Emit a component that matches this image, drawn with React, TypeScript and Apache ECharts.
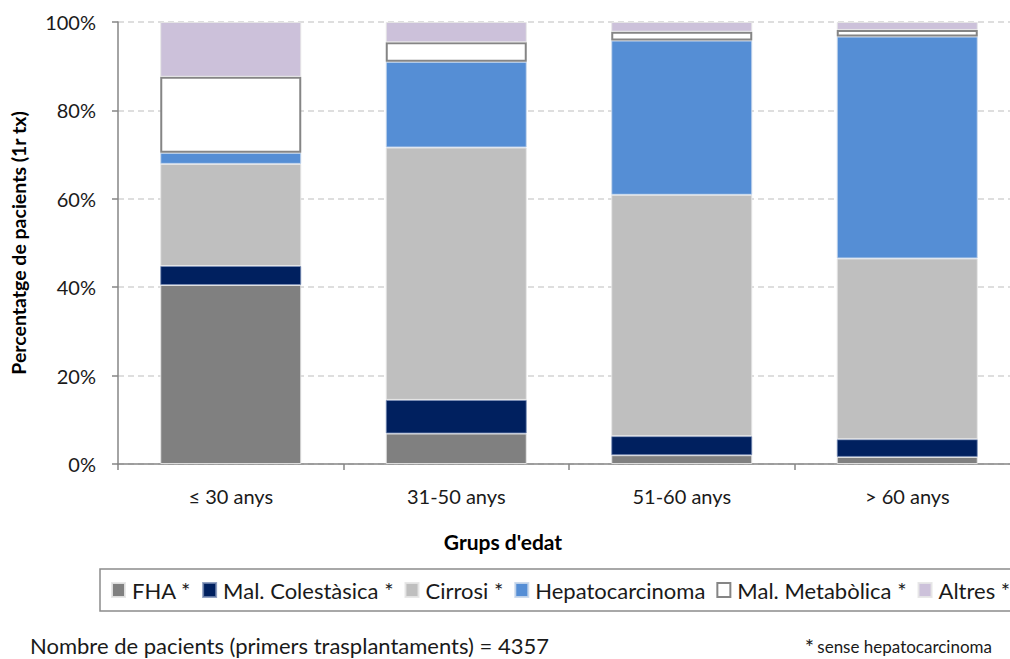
import React, { useEffect, useRef } from "react";
import * as echarts from "echarts";

// Age groups and share of first liver transplants (%) per indication
const categories = ["≤ 30 anys", "31-50 anys", "51-60 anys", "> 60 anys"];
const fha = [40.5, 6.9, 2.0, 1.6];
const colestasica = [4.3, 7.6, 4.3, 4.0];
const cirrosi = [23.1, 57.1, 54.6, 40.9];
const hepatocarcinoma = [2.5, 19.4, 34.9, 50.2];
const metabolica = [17.2, 4.4, 2.0, 1.5];
const altres = [12.4, 4.6, 2.2, 1.8];
const yTicks = [0, 20, 40, 60, 80, 100];

const FONT = "Lato, 'Open Sans', sans-serif";

export default function App() {
  const ref = useRef<HTMLDivElement>(null);

  useEffect(() => {
    if (!ref.current) return;
    const chart = echarts.init(ref.current, null, { renderer: "svg" });

    const mk = (name: string, data: number[], color: string, border?: string, bw?: number) => ({
      name,
      type: "bar",
      stack: "total",
      data,
      barWidth: 141,
      itemStyle: {
        color,
        borderColor: border ?? "rgba(230,230,230,0.9)",
        borderWidth: bw ?? 1,
      },
      emphasis: { disabled: true },
    });

    chart.setOption({
      animation: false,
      textStyle: { fontFamily: FONT },
      grid: {
        left: 118,
        top: 22,
        width: 902,
        height: 442,
        containLabel: false,
        outerBoundsMode: "none",
      },
      legend: {
        left: 100,
        top: 569,
        width: 1200,
        padding: [9, 12, 9, 11],
        borderColor: "#8c8c8c",
        borderWidth: 1.5,
        itemWidth: 13,
        itemHeight: 14,
        itemGap: 11,
        icon: "rect",
        textStyle: { fontFamily: FONT, fontSize: 22, lineHeight: 24, color: "#1a1a1a", padding: [0, 0, 0, 2] },
        data: [
          "FHA *",
          "Mal. Colestàsica *",
          "Cirrosi *",
          "Hepatocarcinoma",
          "Mal. Metabòlica *",
          "Altres *",
        ],
      },
      xAxis: {
        type: "category",
        data: categories,
        axisLine: { lineStyle: { color: "#868686", width: 1.5 } },
        axisTick: { show: true, length: 6, lineStyle: { color: "#868686", width: 1.5 } },
        axisLabel: { fontFamily: FONT, fontSize: 20, color: "#1a1a1a", margin: 22 },
      },
      yAxis: {
        type: "value",
        min: yTicks[0],
        max: yTicks[yTicks.length - 1],
        interval: 20,
        name: "Percentatge de pacients (1r tx)",
        nameLocation: "middle",
        nameGap: 90,
        nameRotate: 90,
        nameTextStyle: { fontFamily: FONT, fontSize: 19.5, fontWeight: "bold", color: "#000" },
        axisLine: { show: true, lineStyle: { color: "#868686", width: 1.5 } },
        axisTick: { show: true, length: 6, lineStyle: { color: "#868686", width: 1.5 } },
        axisLabel: { fontFamily: FONT, fontSize: 20, color: "#1a1a1a", margin: 22, formatter: "{value}%" },
        splitLine: { lineStyle: { color: "#d4d4d4", type: [6, 4], width: 1.5 } },
      },
      series: [
        mk("FHA *", fha, "#808080"),
        mk("Mal. Colestàsica *", colestasica, "#00205f", "rgba(120,140,180,0.8)"),
        mk("Cirrosi *", cirrosi, "#bfbfbf"),
        mk("Hepatocarcinoma", hepatocarcinoma, "#558ed5", "rgba(200,215,235,0.9)"),
        mk("Mal. Metabòlica *", metabolica, "#ffffff", "#858585", 2),
        mk("Altres *", altres, "#ccc1da"),
      ],
      graphic: [
        {
          type: "text",
          x: 503,
          y: 541,
          style: {
            text: "Grups d'edat",
            font: `bold 21px ${FONT}`,
            fill: "#000",
            align: "center",
            verticalAlign: "middle",
          },
        },
        {
          type: "text",
          x: 30,
          y: 645,
          style: {
            text: "Nombre de pacients (primers trasplantaments) = 4357",
            font: `22px ${FONT}`,
            lineHeight: 22,
            fill: "#1a1a1a",
            verticalAlign: "middle",
          },
        },
        {
          type: "text",
          x: 992,
          y: 645,
          style: {
            text: "{a|*} {b|sense hepatocarcinoma}",
            align: "right",
            verticalAlign: "middle",
            rich: {
              a: { fontFamily: FONT, fontSize: 22, lineHeight: 20, fill: "#1a1a1a", color: "#1a1a1a", verticalAlign: "top" },
              b: { fontFamily: FONT, fontSize: 17, lineHeight: 20, fill: "#1a1a1a", color: "#1a1a1a", verticalAlign: "bottom" },
            },
          },
        },
      ],
    });

    return () => chart.dispose();
  }, []);

  return <div ref={ref} style={{ width: 1010, height: 659, position: "absolute", left: 0, top: 0 }} />;
}
